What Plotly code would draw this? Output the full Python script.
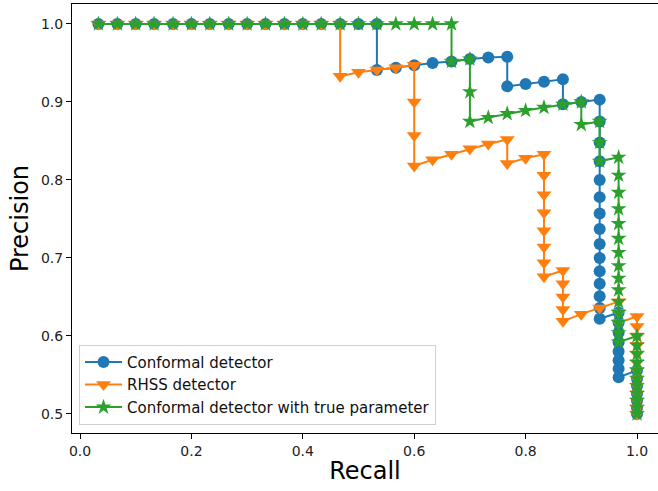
import plotly.graph_objects as go

# ---- data ----
conf_recall = [0.033, 0.067, 0.1, 0.133, 0.167, 0.2, 0.233, 0.267, 0.3, 0.333, 0.367, 0.4, 0.433, 0.467, 0.5, 0.533,
               0.533, 0.567, 0.6, 0.633, 0.667, 0.7, 0.733, 0.767,
               0.767, 0.8, 0.833, 0.867,
               0.867, 0.9, 0.933,
               0.933, 0.933, 0.933, 0.933, 0.933, 0.933, 0.933, 0.933, 0.933, 0.933, 0.933, 0.933, 0.933, 0.933,
               0.967, 0.967, 0.967, 0.967, 0.967, 0.967, 0.967, 0.967,
               1.0, 1.0, 1.0, 1.0, 1.0, 1.0, 1.0]
conf_precision = [1.0] * 16 + [
               0.941, 0.944, 0.947, 0.95, 0.952, 0.955, 0.957, 0.958,
               0.92, 0.923, 0.926, 0.929,
               0.897, 0.9, 0.903,
               0.875, 0.848, 0.824, 0.8, 0.778, 0.757, 0.737, 0.718, 0.7, 0.683, 0.667, 0.651, 0.636, 0.622,
               0.63, 0.617, 0.604, 0.592, 0.58, 0.569, 0.558, 0.547,
               0.556, 0.545, 0.536, 0.526, 0.517, 0.508, 0.5]

rhss_recall = [0.033, 0.067, 0.1, 0.133, 0.167, 0.2, 0.233, 0.267, 0.3, 0.333, 0.367, 0.4, 0.433, 0.467,
               0.467, 0.5, 0.533, 0.567, 0.6,
               0.6, 0.6, 0.6,
               0.633, 0.667, 0.7, 0.733, 0.767,
               0.767, 0.8, 0.833,
               0.833, 0.833, 0.833, 0.833, 0.833, 0.833, 0.833,
               0.867, 0.867, 0.867, 0.867, 0.867,
               0.9, 0.933,
               0.967, 0.967, 0.967,
               1.0, 1.0, 1.0, 1.0, 1.0, 1.0, 1.0, 1.0, 1.0, 1.0, 1.0, 1.0, 1.0]
rhss_precision = [1.0] * 14 + [
               0.933, 0.938, 0.941, 0.944, 0.947,
               0.9, 0.857, 0.818,
               0.826, 0.833, 0.84, 0.846, 0.852,
               0.821, 0.828, 0.833,
               0.806, 0.781, 0.758, 0.735, 0.714, 0.694, 0.676,
               0.684, 0.667, 0.65, 0.634, 0.619,
               0.628, 0.636,
               0.644, 0.63, 0.617,
               0.625, 0.612, 0.6, 0.588, 0.577, 0.566, 0.556, 0.545, 0.536, 0.526, 0.517, 0.508, 0.5]

true_recall = [0.033, 0.067, 0.1, 0.133, 0.167, 0.2, 0.233, 0.267, 0.3, 0.333, 0.367, 0.4, 0.433, 0.467, 0.5,
               0.533, 0.567, 0.6, 0.633, 0.667,
               0.667, 0.7,
               0.7, 0.7,
               0.733, 0.767, 0.8, 0.833, 0.867, 0.9,
               0.9, 0.933,
               0.933, 0.933,
               0.967, 0.967, 0.967, 0.967, 0.967, 0.967, 0.967, 0.967, 0.967, 0.967, 0.967, 0.967, 0.967, 0.967, 0.967,
               1.0, 1.0, 1.0, 1.0, 1.0, 1.0, 1.0, 1.0, 1.0, 1.0, 1.0]
true_precision = [1.0] * 20 + [
               0.952, 0.955,
               0.913, 0.875,
               0.88, 0.885, 0.889, 0.893, 0.897, 0.9,
               0.871, 0.875,
               0.848, 0.824,
               0.829, 0.806, 0.784, 0.763, 0.744, 0.725, 0.707, 0.69, 0.674, 0.659, 0.644, 0.63, 0.617, 0.604, 0.592,
               0.6, 0.588, 0.577, 0.566, 0.556, 0.545, 0.536, 0.526, 0.517, 0.508, 0.5]

series_names = ["Conformal detector", "RHSS detector", "Conformal detector with true parameter"]
x_ticks = [0.0, 0.2, 0.4, 0.6, 0.8, 1.0]
y_ticks = [0.5, 0.6, 0.7, 0.8, 0.9, 1.0]

# ---- figure ----
fig = go.Figure()
fig.add_trace(go.Scatter(x=conf_recall, y=conf_precision, mode="lines+markers", name=series_names[0],
                         line=dict(color="#1f77b4", width=2),
                         marker=dict(symbol="circle", size=12, color="#1f77b4")))
fig.add_trace(go.Scatter(x=rhss_recall, y=rhss_precision, mode="lines+markers", name=series_names[1],
                         line=dict(color="#ff7f0e", width=2),
                         marker=dict(symbol="triangle-down", size=13, color="#ff7f0e")))
fig.add_trace(go.Scatter(x=true_recall, y=true_precision, mode="lines+markers", name=series_names[2],
                         line=dict(color="#2ca02c", width=2),
                         marker=dict(symbol="star", size=12, color="#2ca02c")))

font_family = "DejaVu Sans"
fig.update_layout(
    width=658, height=491,
    margin=dict(l=72, r=0, t=4, b=58),
    paper_bgcolor="white", plot_bgcolor="white",
    font=dict(family=font_family, color="#000000", size=14),
    legend=dict(x=0.012, y=0.019, xanchor="left", yanchor="bottom",
                bgcolor="rgba(255,255,255,0.8)", bordercolor="#d0d0d0", borderwidth=1,
                font=dict(size=15, family=font_family, color="#111111"), itemwidth=37, tracegroupgap=0),
    showlegend=True,
)
fig.update_xaxes(range=[-0.0144, 1.0377], tickvals=x_ticks, tickformat=".1f", automargin=False,
                 showgrid=False, zeroline=False, showline=True, linecolor="black", linewidth=1,
                 mirror=True, ticks="outside", ticklen=5, tickcolor="black",
                 tickfont=dict(size=14, color="#222222"),
                 title=dict(text="Recall", font=dict(size=24, color="#000000"), standoff=4))
fig.update_yaxes(range=[0.4756, 1.0256], tickvals=y_ticks, tickformat=".1f", automargin=False,
                 showgrid=False, zeroline=False, showline=True, linecolor="black", linewidth=1,
                 ticks="outside", ticklen=5, tickcolor="black",
                 tickfont=dict(size=14, color="#222222"),
                 title=dict(text="Precision", font=dict(size=24, color="#000000"), standoff=5))

fig.write_html("out.html",
               config={"displayModeBar": False},
               post_script="document.body.style.margin='0';document.body.style.padding='0';")
